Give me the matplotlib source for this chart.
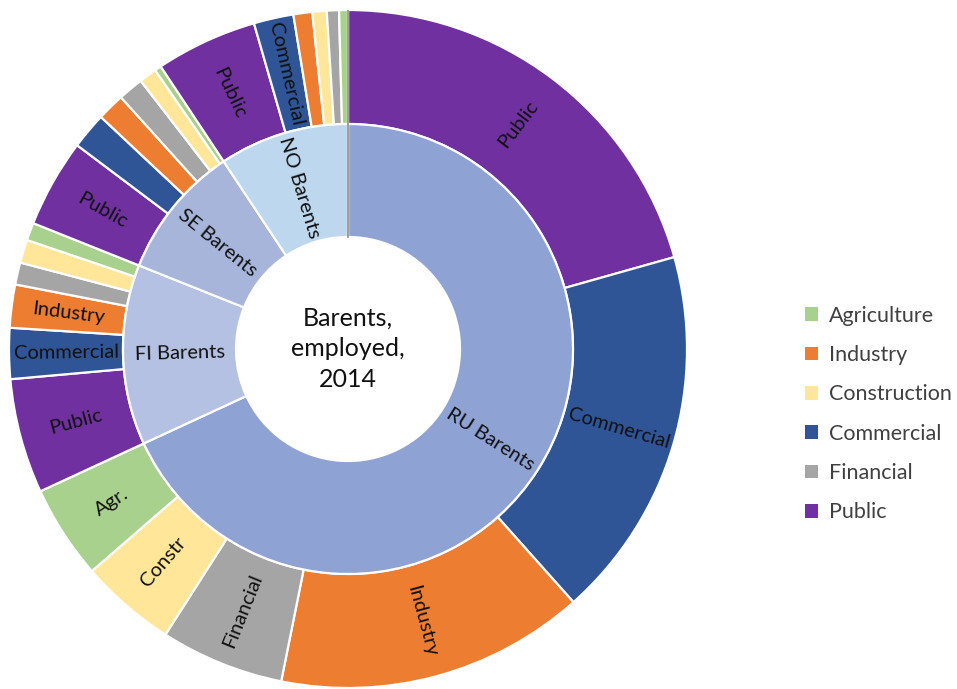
import numpy as np
import matplotlib.pyplot as plt
from matplotlib.patches import Patch

plt.rcParams['font.family'] = ['Lato', 'DejaVu Sans']

# employed persons, thousands
regions = ['RU Barents', 'FI Barents', 'SE Barents', 'NO Barents']
region_colors = ['#8fa2d4', '#b5c1e3', '#a7b5da', '#bdd7ee']

sectors = ['Agriculture', 'Industry', 'Construction', 'Commercial', 'Financial', 'Public']
sector_colors = {
    'Agriculture': '#a9d18e',
    'Industry': '#ed7d31',
    'Construction': '#ffe699',
    'Commercial': '#2f5597',
    'Financial': '#a5a5a5',
    'Public': '#7030a0',
}

ru_sectors = ['Public', 'Commercial', 'Industry', 'Financial', 'Construction', 'Agriculture']
ru_values = [392, 338, 280, 112, 87, 85]
ru_labels = ['Public', 'Commercial', 'Industry', 'Financial', 'Constr', 'Agr.']

fi_sectors = ['Public', 'Commercial', 'Industry', 'Financial', 'Construction', 'Agriculture']
fi_values = [104, 46, 39, 20, 21, 16]
fi_labels = ['Public', 'Commercial', 'Industry', '', '', '']

se_sectors = ['Public', 'Commercial', 'Industry', 'Financial', 'Construction', 'Agriculture']
se_values = [80, 33, 25, 23, 16, 6]
se_labels = ['Public', '', '', '', '', '']

no_sectors = ['Public', 'Commercial', 'Industry', 'Construction', 'Financial', 'Agriculture']
no_values = [92, 36, 17, 13, 11, 8]
no_labels = ['Public', 'Commercial', '', '', '', '']

outer_sectors = ru_sectors + fi_sectors + se_sectors + no_sectors
outer_values = ru_values + fi_values + se_values + no_values
outer_labels = ru_labels + fi_labels + se_labels + no_labels
region_totals = [sum(ru_values), sum(fi_values), sum(se_values), sum(no_values)]

R_OUT = 1.0
R_MID = 225 / 339
R_HOLE = 112 / 339

W, H = 957, 689
fig = plt.figure(figsize=(W / 100, H / 100), dpi=100)
cx, cy, rad = 348, 349, 339
ax = fig.add_axes([(cx - rad) / W, (H - cy - rad) / H, 2 * rad / W, 2 * rad / H])
ax.axis('off')

wedge_kw = dict(edgecolor='white', linewidth=1.6)
outer, _ = ax.pie(outer_values, radius=R_OUT, startangle=90, counterclock=False,
                  colors=[sector_colors[s] for s in outer_sectors],
                  wedgeprops=dict(width=R_OUT - R_MID, **wedge_kw))
inner, _ = ax.pie(region_totals, radius=R_MID, startangle=90, counterclock=False,
                  colors=region_colors,
                  wedgeprops=dict(width=R_MID - R_HOLE, **wedge_kw))
ax.set_xlim(-1, 1)
ax.set_ylim(-1, 1)
ax.set_aspect('equal')

# thin seam at the start of the rings
ax.plot([0, 0], [R_HOLE, R_OUT], color='#8c8c8c', lw=1.2, zorder=3)


def put_label(w, text, r, size):
    a = (w.theta1 + w.theta2) / 2
    a = (a + 180) % 360 - 180
    x, y = r * np.cos(np.radians(a)), r * np.sin(np.radians(a))
    rot = a if -90 <= a <= 90 else a - 180
    ax.text(x, y, text, rotation=rot, rotation_mode='anchor',
            ha='center', va='center', fontsize=size, color='#111111')


for w, lab in zip(outer, outer_labels):
    if lab:
        put_label(w, lab, (R_OUT + R_MID) / 2, 14.5)
for w, lab in zip(inner, regions):
    put_label(w, lab, (R_MID + R_HOLE) / 2, 14.5)

ax.text(0, 0, 'Barents,\nemployed,\n2014', ha='center', va='center',
        fontsize=18, linespacing=1.42, color='#111111')

handles = [Patch(facecolor=sector_colors[s], edgecolor='none') for s in sectors]
fig.legend(handles, sectors, loc='center left', bbox_to_anchor=(786 / W, 1 - 414 / H),
           frameon=False, fontsize=15.5, handlelength=0.6, handleheight=0.6,
           handletextpad=0.5, labelspacing=0.9, labelcolor='#404040')

fig.savefig('out.png', dpi=100)
